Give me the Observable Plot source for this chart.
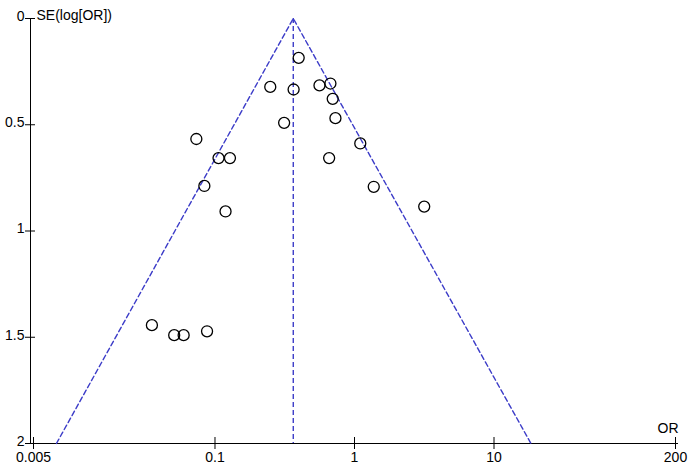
<!DOCTYPE html>
<html>
<head>
<meta charset="utf-8">
<script src="https://cdn.jsdelivr.net/npm/d3@7"></script>
<script src="https://cdn.jsdelivr.net/npm/@observablehq/plot@0.6"></script>
<style>
  html, body { margin: 0; padding: 0; background: #fff; }
</style>
</head>
<body>
<div id="chart"></div>
<script>
// Study odds ratios and standard errors of log(OR)
const studyOR = [0.398, 0.249, 0.366, 0.561, 0.672, 0.698, 0.730, 0.313, 0.0735, 0.106, 0.128,
                 0.658, 1.10, 0.0839, 1.374, 0.119, 3.16, 0.0353, 0.051, 0.0596, 0.0877];
const studySE = [0.185, 0.322, 0.334, 0.315, 0.306, 0.378, 0.469, 0.491, 0.567, 0.657, 0.657,
                 0.657, 0.588, 0.788, 0.792, 0.908, 0.885, 1.443, 1.490, 1.490, 1.472];

// Pooled estimate and funnel (pseudo 95% confidence limits)
const pooledOR = 0.364;
const funnelOR = [0.0073, 0.364, 18.4];
const funnelSE = [2, 0, 2];

// Axis ticks
const xTicks = [0.005, 0.1, 1, 10, 200];
const xTickLabels = ["0.005", "0.1", "1", "10", "200"];
const yTicks = [0, 0.5, 1, 1.5, 2];
const yTickLabels = ["0", "0.5", "1", "1.5", "2"];

const studies = studyOR.map((or, i) => ({or, se: studySE[i]}));
const funnel = funnelOR.map((or, i) => ({or, se: funnelSE[i]}));
const xTickData = xTicks.map((v, i) => ({v, label: xTickLabels[i]}));
const yTickData = yTicks.map((v, i) => ({v, label: yTickLabels[i]}));

const blue = "#3c3cc8";

const chart = Plot.plot({
  width: 688,
  height: 465,
  marginLeft: 33,
  marginRight: 13,
  marginTop: 18,
  marginBottom: 22,
  style: {fontFamily: "'Liberation Sans', Arial, sans-serif", fontSize: "14px", color: "#000", background: "#fff"},
  x: {type: "log", domain: [0.005, 200]},
  y: {domain: [0, 2], reverse: true},
  marks: [
    // axis lines
    Plot.ruleY([2], {stroke: "#000", strokeWidth: 1, insetLeft: -3, insetRight: -3}),
    Plot.ruleX([0.005], {stroke: "#000", strokeWidth: 1, dx: -3}),
    Plot.axisX({
      ticks: xTicks,
      tickFormat: () => "",
      tickSize: 12, dy: -6, tickPadding: 0, label: null,
      stroke: "#000", fill: "#000"
    }),
    Plot.text(xTickData, {x: "v", text: "label", frameAnchor: "bottom", lineAnchor: "top", dy: 9, fill: "#000"}),
    Plot.axisY({
      ticks: yTicks,
      tickFormat: () => "",
      tickSize: 10, dx: 2, tickPadding: 2, label: null,
      stroke: "#000", fill: "#000"
    }),
    Plot.text(yTickData, {y: "v", text: "label", frameAnchor: "left", textAnchor: "end", dx: -9, dy: -2, fill: "#000"}),
    Plot.text(["SE(log[OR])"], {frameAnchor: "top-left", dx: 3, dy: -8, textAnchor: "start", fill: "#000"}),
    Plot.text(["OR"], {frameAnchor: "bottom-right", dx: 3, dy: -11, textAnchor: "end", fill: "#000"}),
    // funnel
    Plot.line(funnel, {x: "or", y: "se", stroke: blue, strokeWidth: 1.4, strokeDasharray: "5,3"}),
    Plot.ruleX([pooledOR], {y1: 0, y2: 2, stroke: blue, strokeWidth: 1.4, strokeDasharray: "5,3"}),
    // studies
    Plot.dot(studies, {x: "or", y: "se", r: 5.5, stroke: "#000", strokeWidth: 1.3, fill: "none"})
  ]
});
document.getElementById("chart").appendChild(chart);
</script>
</body>
</html>
